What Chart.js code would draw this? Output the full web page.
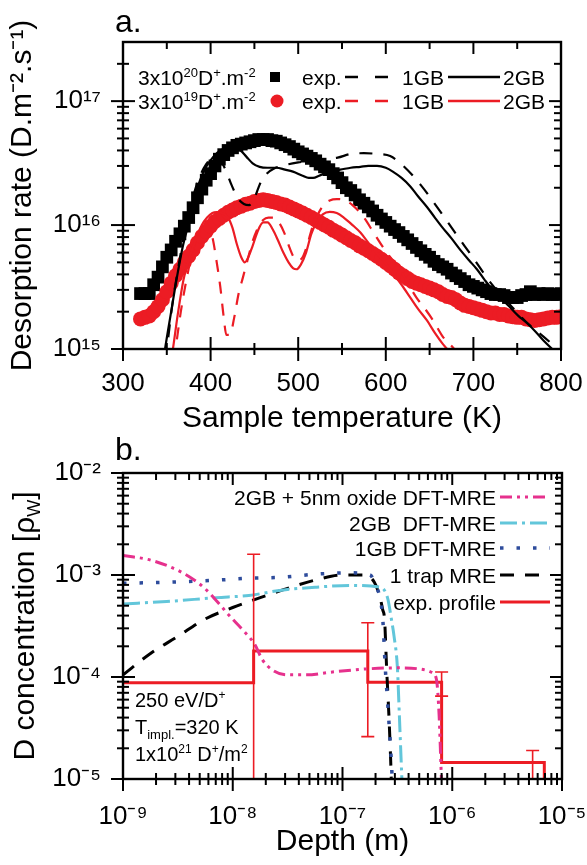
<!DOCTYPE html>
<html>
<head>
<meta charset="utf-8">
<script src="https://cdn.jsdelivr.net/npm/chart.js@4.4.1/dist/chart.umd.min.js"></script>
<style>
html,body{margin:0;padding:0;background:#fff;width:587px;height:865px;overflow:hidden}
canvas{position:absolute;left:0}
#ca{top:0}
#cb{top:435px}
</style>
</head>
<body>
<canvas id="ca" width="587" height="435"></canvas>
<canvas id="cb" width="587" height="430"></canvas>
<script>
// ---------------- Panel a data ----------------
const tempExp = [320,325,330,335,340,345,350,355,360,365,370,375,380,385,390,395,400,405,410,415,420,
  425,430,435,440,445,450,455,460,465,470,475,480,485,490,495,500,505,510,515,520,
  525,530,535,540,545,550,555,560,565,570,575,580,585,590,595,600,605,610,615,620,
  625,630,635,640,645,650,655,660,665,670,675,680,685,690,695,700,705,710,715,720,
  725,730,735,740,745,750,755,760,765,770,775,780,785,790,795,800];
const exp3e20 = [2.8e15,2.8e15,2.8e15,3.3e15,3.8e15,4.6e15,5.5e15,6.3e15,7.4e15,8.5e15,9.8e15,
  1.15e16,1.38e16,1.66e16,1.95e16,2.3e16,2.6e16,3.0e16,3.4e16,3.7e16,4.0e16,
  4.2e16,4.4e16,4.5e16,4.6e16,4.7e16,4.8e16,4.9e16,4.9e16,4.9e16,4.8e16,
  4.75e16,4.6e16,4.45e16,4.3e16,4.1e16,3.9e16,3.75e16,3.6e16,3.45e16,3.3e16,
  3.1e16,2.95e16,2.8e16,2.6e16,2.4e16,2.2e16,2.0e16,1.9e16,1.75e16,1.6e16,
  1.5e16,1.4e16,1.3e16,1.2e16,1.12e16,1.05e16,9.8e15,9.2e15,8.7e15,8.1e15,
  7.6e15,7.1e15,6.6e15,6.2e15,5.8e15,5.5e15,5.1e15,4.8e15,4.6e15,4.4e15,
  4.1e15,3.9e15,3.7e15,3.5e15,3.3e15,3.2e15,3.1e15,3.0e15,2.9e15,2.8e15,
  2.75e15,2.75e15,2.7e15,2.6e15,2.6e15,2.6e15,2.7e15,2.75e15,2.9e15,2.75e15,
  2.8e15,2.75e15,2.8e15,2.75e15,2.75e15,2.8e15];
const exp3e19 = [1.75e15,1.8e15,1.85e15,2.0e15,2.2e15,2.5e15,2.9e15,3.4e15,3.9e15,4.4e15,5.0e15,
  5.6e15,6.3e15,7.2e15,8.1e15,8.9e15,9.8e15,1.07e16,1.13e16,1.2e16,1.27e16,
  1.32e16,1.38e16,1.42e16,1.47e16,1.5e16,1.55e16,1.58e16,1.6e16,1.58e16,1.55e16,
  1.52e16,1.48e16,1.45e16,1.4e16,1.35e16,1.3e16,1.25e16,1.2e16,1.15e16,1.1e16,
  1.05e16,1.0e16,9.6e15,9.1e15,8.7e15,8.3e15,7.9e15,7.5e15,7.2e15,6.8e15,
  6.5e15,6.2e15,5.9e15,5.6e15,5.3e15,5.0e15,4.7e15,4.4e15,4.1e15,3.9e15,
  3.7e15,3.5e15,3.4e15,3.3e15,3.2e15,3.1e15,3.0e15,2.9e15,2.75e15,2.65e15,
  2.6e15,2.5e15,2.35e15,2.25e15,2.2e15,2.15e15,2.1e15,2.05e15,2.0e15,1.95e15,
  1.95e15,1.9e15,1.9e15,1.85e15,1.82e15,1.8e15,1.8e15,1.75e15,1.72e15,1.7e15,
  1.72e15,1.75e15,1.78e15,1.8e15,1.8e15,1.82e15];

const temp2GB_3e20 = [346,348,355,361,368,376,382,388,395,403,411,419,428,434,441,448,456,465,475,485,494,505,512,517,524,532,540,548,560,571,580,590,600,608,618,628,637,647,656,665,675,685,695,704,713,722,731,741,751,761,771,780,790,800];
const rate2GB_3e20 = [8e14,1.0e15,2.0e15,3.6e15,6.6e15,1.1e16,1.66e16,2.3e16,2.95e16,3.55e16,4.0e16,4.15e16,4.15e16,4.0e16,3.55e16,3.15e16,2.95e16,2.9e16,2.9e16,2.8e16,2.7e16,2.5e16,2.4e16,2.4e16,2.5e16,2.65e16,2.75e16,2.8e16,2.9e16,2.95e16,3.0e16,3.0e16,2.9e16,2.7e16,2.4e16,2.05e16,1.7e16,1.4e16,1.15e16,9.5e15,7.8e15,6.3e15,5.2e15,4.4e15,3.6e15,3.0e15,2.6e15,2.2e15,1.86e15,1.62e15,1.38e15,1.17e15,1.0e15,8.7e14];

const temp1GB_3e20 = [348,350,356,363,370,378,386,395,403,410,417,424,431,438,444,450,457,464,472,485,500,515,530,545,560,575,590,605,620,640,660,680,700,720,740,760,780,800];
const rate1GB_3e20 = [8e14,1.0e15,2.2e15,4.5e15,8.5e15,1.5e16,2.3e16,3.1e16,3.5e16,3.4e16,2.8e16,2.1e16,1.65e16,1.48e16,1.45e16,1.65e16,2.2e16,2.6e16,2.85e16,3.05e16,3.2e16,3.3e16,3.4e16,3.5e16,3.75e16,3.8e16,3.75e16,3.6e16,3.0e16,2.1e16,1.35e16,8.5e15,5.4e15,3.4e15,2.35e15,1.66e15,1.26e15,9.5e14];

const temp2GB_3e19 = [355,357,363,369,376,384,390,396,402,407,413,420,425,430,435,439,443,448,454,460,465,471,477,483,489,494,498,503,509,515,521,528,536,544,552,562,571,580,590,600,608,618,628,637,647,656,665,670,675];
const rate2GB_3e19 = [8e14,1.0e15,2.0e15,3.6e15,5.5e15,8.0e15,1.0e16,1.15e16,1.25e16,1.27e16,1.25e16,1.15e16,9.5e15,7.0e15,5.5e15,5.0e15,5.5e15,6.8e15,9.0e15,1.05e16,1.05e16,9.2e15,7.5e15,6.0e15,5.0e15,4.5e15,4.4e15,4.8e15,6.0e15,8.5e15,1.05e16,1.22e16,1.28e16,1.25e16,1.15e16,1.0e16,8.7e15,7.2e15,5.9e15,4.9e15,4.1e15,3.3e15,2.6e15,2.1e15,1.7e15,1.35e15,1.1e15,1.0e15,8.8e14];

const temp1GB_3e19 = [358,360,366,373,380,386,392,397,402,407,411,415,418,422,427,432,437,443,448,454,460,466,472,478,484,490,495,500,505,510,516,522,529,536,544,552,562,575,586,597,606,616,625,635,645,654,665,678,682];
const rate1GB_3e19 = [8e14,1.0e15,2.0e15,3.8e15,6.3e15,8.3e15,9.5e15,9.5e15,8.0e15,5.0e15,3.2e15,1.8e15,1.3e15,1.3e15,1.8e15,2.8e15,3.8e15,5.5e15,7.4e15,9.5e15,1.1e16,1.15e16,1.15e16,1.05e16,8.7e15,6.6e15,5.5e15,5.2e15,5.5e15,6.8e15,9.5e15,1.2e16,1.45e16,1.58e16,1.62e16,1.6e16,1.45e16,1.15e16,8.7e15,6.6e15,5.4e15,4.4e15,3.4e15,2.6e15,2.1e15,1.7e15,1.26e15,1.0e15,9e14];

const xTickValsA = [300,400,500,600,700,800];
const xTickLabelsA = ['300','400','500','600','700','800'];
const xMinorA = [350,450,550,650,750];
const yTickValsA = [1e15,1e16,1e17];
const yTickLabelsA = ['10¹⁵','10¹⁶','10¹⁷'];

// ---------------- Panel b data ----------------
const depthOx = [1e-9,1.78e-9,3.5e-9,5.4e-9,7.1e-9,9.3e-9,1.23e-8,1.58e-8,1.86e-8,2.3e-8,3.1e-8,4.7e-8,8.1e-8,1.66e-7,3.3e-7,5.0e-7,6.6e-7,7.2e-7,7.6e-7,7.9e-7,8.1e-7];
const concOx  = [1.55e-3,1.4e-3,1.05e-3,7.6e-4,5.6e-4,4.0e-4,2.9e-4,2.1e-4,1.48e-4,1.17e-4,1.05e-4,1.05e-4,1.12e-4,1.2e-4,1.23e-4,1.2e-4,1.1e-4,9.3e-5,4.1e-5,1.3e-5,6.3e-6];
const depth2GB = [1e-9,2.5e-9,7.1e-9,1.4e-8,2.8e-8,5.8e-8,1.15e-7,2.2e-7,2.57e-7,2.8e-7,2.95e-7,3.16e-7,3.3e-7,3.47e-7,3.55e-7];
const conc2GB  = [5.2e-4,5.5e-4,6.0e-4,6.3e-4,7.1e-4,7.6e-4,7.9e-4,7.6e-4,6.0e-4,3.6e-4,2.5e-4,1.26e-4,4.1e-5,1.05e-5,6e-6];
const depth1GB = [1e-9,2.5e-9,7.1e-9,1.4e-8,2.8e-8,5.8e-8,1.15e-7,1.78e-7,2.04e-7,2.24e-7,2.34e-7,2.45e-7,2.57e-7,2.69e-7,2.82e-7,2.88e-7];
const conc1GB  = [8.3e-4,8.5e-4,8.9e-4,9.3e-4,9.5e-4,1.02e-3,1.05e-3,1.0e-3,7.6e-4,5.4e-4,3.4e-4,1.26e-4,5.9e-5,2.8e-5,1.15e-5,6.3e-6];
const depthTrap = [1e-9,1.78e-9,3.16e-9,5.6e-9,1e-8,1.78e-8,3.16e-8,5.6e-8,1e-7,1.58e-7,1.95e-7,2.2e-7,2.32e-7,2.42e-7,2.52e-7,2.65e-7,2.74e-7,2.82e-7];
const concTrap  = [1.05e-4,1.7e-4,2.5e-4,3.7e-4,4.8e-4,6.0e-4,7.4e-4,8.9e-4,1.0e-3,1.0e-3,8.5e-4,6.0e-4,4.6e-4,3.6e-4,1.26e-4,4.1e-5,1.66e-5,6.3e-6];
const expDepth = [1e-9,1.55e-8,1.7e-7,8e-7,6.9e-6];
const expConc  = [8.8e-5,1.8e-4,8.9e-5,1.45e-5,1e-6];
const errDepth = [1.55e-8,1.7e-7,8e-7,5.4e-6];
const errHigh  = [1.6e-3,3.4e-4,1.12e-4,1.9e-5];
const errLow   = [1e-6,2.6e-5,6.5e-5,1e-5];

const xTickValsB = [1e-9,1e-8,1e-7,1e-6,1e-5];
const xTickLabelsB = ['10⁻⁹','10⁻⁸','10⁻⁷','10⁻⁶','10⁻⁵'];
const yTickValsB = [1e-5,1e-4,1e-3,1e-2];
const yTickLabelsB = ['10⁻⁵','10⁻⁴','10⁻³','10⁻²'];

// ---------------- helpers ----------------
const FONT = "'Liberation Sans', Arial, Helvetica, sans-serif";
const RED = '#ec1c24', MAG = '#e6318d', CYAN = '#62c6da', BLUE = '#2e4c9c';
const TICKFONT = 26;

function pts(xs, ys){ return xs.map((x,i)=>({x:x, y:ys[i]})); }
function lineDS(xs, ys, color, dash, width, extra){
  return Object.assign({data:pts(xs,ys), showLine:true, borderColor:color, backgroundColor:color,
    borderWidth:width, borderDash:dash, pointRadius:0, fill:false,
    cubicInterpolationMode:'monotone', clip:0}, extra||{});
}
function logMinor(lo, hi){
  const out=[];
  for(let e=Math.round(Math.log10(lo)); e<Math.round(Math.log10(hi))+1; e++){
    for(let m=2;m<=9;m++){ const v=m*Math.pow(10,e); if(v>lo && v<hi*0.999) out.push(v); }
  }
  return out;
}
function xAxis(type,min,max,vals,labels,pad,titleText,titlePadB,h){
  return {type:type,min:min,max:max,
    grid:{display:false,drawTicks:false}, border:{display:false},
    afterBuildTicks:s=>{s.ticks=vals.map(v=>({value:v}));},
    ticks:{autoSkip:false,maxRotation:0,minRotation:0,padding:pad,color:'#000',
      font:{family:FONT,size:TICKFONT,lineHeight:1},callback:(v,i)=>labels[i]},
    title:{display:!!titleText,text:titleText,color:'#000',font:{family:FONT,size:30,lineHeight:1},
      padding:{top:0,bottom:titlePadB}},
    afterFit:s=>{s.height=h;s.paddingLeft=0;s.paddingRight=0;}
  };
}
function yAxis(type,min,max,vals,labels,pad,titleText,titlePadT){
  return {type:type,min:min,max:max,
    grid:{display:false,drawTicks:false}, border:{display:false},
    afterBuildTicks:s=>{s.ticks=vals.map(v=>({value:v}));},
    ticks:{autoSkip:false,padding:pad,color:'#000',
      font:{family:FONT,size:TICKFONT,lineHeight:1},callback:(v,i)=>labels[i]},
    title:{display:!!titleText,text:titleText||'',color:'#000',font:{family:FONT,size:30,lineHeight:1},
      padding:{top:titlePadT,bottom:0}},
    afterFit:s=>{s.width=123;s.paddingTop=0;s.paddingBottom=0;}
  };
}
// rich text: parts = [text, size, dy]
function rich(ctx, x, y, parts, align){
  let w=0;
  parts.forEach(p=>{ctx.font=p[1]+'px '+FONT; w+=ctx.measureText(p[0]).width;});
  let cx = align==='right' ? x-w : (align==='center' ? x-w/2 : x);
  ctx.textAlign='left'; ctx.textBaseline='alphabetic'; ctx.fillStyle='#000';
  parts.forEach(p=>{ctx.font=p[1]+'px '+FONT; ctx.fillText(p[0],cx,y+p[2]); cx+=ctx.measureText(p[0]).width;});
  return w;
}
function seg(ctx,x1,x2,y,color,dash,width){
  ctx.save(); ctx.strokeStyle=color; ctx.lineWidth=width; ctx.setLineDash(dash);
  ctx.beginPath(); ctx.moveTo(x1,y); ctx.lineTo(x2,y); ctx.stroke(); ctx.restore();
}
function framePlugin(spec){
  return {
    id:'frame',
    afterDatasetsDraw(chart){ if(spec.under) spec.under(chart); },
    afterDraw(chart){
      const ctx=chart.ctx, ca=chart.chartArea, xs=chart.scales.x, ys=chart.scales.y;
      ctx.save();
      ctx.strokeStyle='#000'; ctx.lineWidth=2.4; ctx.setLineDash([]);
      ctx.strokeRect(ca.left,ca.top,ca.right-ca.left,ca.bottom-ca.top);
      ctx.lineWidth=2;
      const L=(a,b,c,d)=>{ctx.beginPath();ctx.moveTo(a,b);ctx.lineTo(c,d);ctx.stroke();};
      spec.xMajor.forEach(v=>{const p=xs.getPixelForValue(v); L(p,ca.bottom-12,p,ca.bottom+12); L(p,ca.top,p,ca.top+12);});
      spec.xMinor.forEach(v=>{const p=xs.getPixelForValue(v); L(p,ca.bottom-6,p,ca.bottom+6); L(p,ca.top,p,ca.top+7);});
      spec.yMajor.forEach(v=>{const p=ys.getPixelForValue(v); L(ca.left-12,p,ca.left+12,p); L(ca.right-12,p,ca.right,p);});
      spec.yMinor.forEach(v=>{const p=ys.getPixelForValue(v); L(ca.left-6,p,ca.left+6,p); L(ca.right-7,p,ca.right,p);});
      ctx.restore();
      ctx.save(); spec.extra(chart); ctx.restore();
    }
  };
}

// ---------------- Chart a ----------------
new Chart(document.getElementById('ca'), {
  type:'line',
  data:{datasets:[
    lineDS(temp2GB_3e20, rate2GB_3e20, '#000', [], 2.2),
    lineDS(temp1GB_3e20, rate1GB_3e20, '#000', [13,11], 2.2),
    lineDS(temp2GB_3e19, rate2GB_3e19, RED, [], 2.2),
    lineDS(temp1GB_3e19, rate1GB_3e19, RED, [12,10], 2.2),
    {data:pts(tempExp, exp3e19), showLine:false, pointStyle:'circle', pointRadius:7.5,
     pointBackgroundColor:RED, pointBorderWidth:0, borderColor:RED, clip:0},
    {data:pts(tempExp, exp3e20), showLine:false, pointStyle:'rect', pointRadius:9,
     pointBackgroundColor:'#000', pointBorderWidth:0, borderColor:'#000', clip:0}
  ]},
  options:{
    responsive:false, animation:false, events:[],
    layout:{padding:{top:42,right:26,left:0,bottom:0}},
    plugins:{legend:{display:false},tooltip:{enabled:false}},
    scales:{
      x:xAxis('linear',300,800,xTickValsA,xTickLabelsA,22,'Sample temperature (K)',1,86),
      y:yAxis('logarithmic',1e15,3e17,yTickValsA,yTickLabelsA,22,'Desorption rate (D.m⁻².s⁻¹)',8)
    }
  },
  plugins:[framePlugin({
    xMajor:xTickValsA, xMinor:xMinorA, yMajor:yTickValsA, yMinor:logMinor(1e15,3e17),
    extra(chart){
      const ctx=chart.ctx;
      ctx.font='32px '+FONT; ctx.fillStyle='#000'; ctx.textBaseline='alphabetic'; ctx.textAlign='left';
      ctx.fillText('a.',115,32);
      const rows=[
        {y:77, label:[['3x10',21,0],['20',13,-8],['D',21,0],['+',13,-8],['.m',21,0],['-2',13,-8]], color:'#000', marker:'rect'},
        {y:101,label:[['3x10',21,0],['19',13,-8],['D',21,0],['+',13,-8],['.m',21,0],['-2',13,-8]], color:RED, marker:'circle'}
      ];
      rows.forEach(r=>{
        rich(ctx,138,r.y+8,r.label,'left');
        ctx.fillStyle=r.color;
        if(r.marker==='rect'){ ctx.fillRect(270,r.y-5,10,10); }
        else { ctx.beginPath(); ctx.arc(277,r.y,6.5,0,Math.PI*2); ctx.fill(); }
        rich(ctx,302,r.y+8,[['exp.',21,0]],'left');
        seg(ctx,345,388,r.y,r.color,[13,17],2.4);
        rich(ctx,402,r.y+8,[['1GB',21,0]],'left');
        seg(ctx,448,500,r.y,r.color,[],2.4);
        rich(ctx,503,r.y+8,[['2GB',21,0]],'left');
      });
    }
  })]
});

// ---------------- Chart b ----------------
new Chart(document.getElementById('cb'), {
  type:'line',
  data:{datasets:[
    lineDS(depthOx, concOx, MAG, [12,5,3,5,3,5], 3),
    lineDS(depth2GB, conc2GB, CYAN, [17,5,3,5], 3),
    lineDS(depth1GB, conc1GB, BLUE, [3.5,13], 3.5),
    lineDS(depthTrap, concTrap, '#000', [14,11], 3),
    lineDS(expDepth, expConc, RED, [], 3, {stepped:true, cubicInterpolationMode:'default'})
  ]},
  options:{
    responsive:false, animation:false, events:[],
    layout:{padding:{top:38,right:25,left:0,bottom:0}},
    plugins:{legend:{display:false},tooltip:{enabled:false}},
    scales:{
      x:xAxis('logarithmic',1e-9,1e-5,xTickValsB,xTickLabelsB,25,'Depth (m)',8,86),
      y:yAxis('logarithmic',1e-5,1e-2,yTickValsB,yTickLabelsB,22,'',0)
    }
  },
  plugins:[framePlugin({
    xMajor:xTickValsB, xMinor:logMinor(1e-9,1e-5), yMajor:yTickValsB, yMinor:logMinor(1e-5,1e-2),
    under(chart){
      const ctx=chart.ctx, ca=chart.chartArea, xs=chart.scales.x, ys=chart.scales.y;
      ctx.save();
      ctx.beginPath(); ctx.rect(ca.left,ca.top-8,ca.right-ca.left,ca.bottom-ca.top+9); ctx.clip();
      ctx.strokeStyle=RED; ctx.lineWidth=1.6; ctx.setLineDash([]);
      errDepth.forEach((d,i)=>{
        const px=xs.getPixelForValue(d), ph=ys.getPixelForValue(errHigh[i]), pl=ys.getPixelForValue(errLow[i]);
        ctx.beginPath(); ctx.moveTo(px,ph); ctx.lineTo(px,pl);
        ctx.moveTo(px-6.5,ph); ctx.lineTo(px+6.5,ph);
        ctx.moveTo(px-6.5,pl); ctx.lineTo(px+6.5,pl); ctx.stroke();
      });
      ctx.restore();
    },
    extra(chart){
      const ctx=chart.ctx, ca=chart.chartArea;
      ctx.font='32px '+FONT; ctx.fillStyle='#000'; ctx.textBaseline='alphabetic'; ctx.textAlign='left';
      ctx.fillText('b.',115,25);
      // y title with subscript
      ctx.save();
      ctx.translate(23,(ca.top+ca.bottom)/2);
      ctx.rotate(-Math.PI/2);
      rich(ctx,0,11,[['D concentration [ρ',30,0],['W',18,6],[']',30,0]],'center');
      ctx.restore();
      // legend
      const leg=[
        {t:'2GB + 5nm oxide DFT-MRE', c:MAG, d:[12,5,3,5,3,5], w:3, y:62},
        {t:'2GB  DFT-MRE', c:CYAN, d:[17,5,3,5], w:3, y:88},
        {t:'1GB DFT-MRE', c:BLUE, d:[3.5,13], w:3.5, y:113},
        {t:'1 trap MRE', c:'#000', d:[14,11], w:3, y:140},
        {t:'exp. profile', c:RED, d:[], w:3, y:167}
      ];
      leg.forEach(l=>{
        rich(ctx,496,l.y+8,[[l.t,21,0]],'right');
        seg(ctx,500,550,l.y,l.c,l.d,l.w);
      });
      // annotations
      rich(ctx,135,272,[['250 eV/D',20,0],['+',12,-8]],'left');
      rich(ctx,135,299,[['T',20,0],['impl.',13,5],['=320 K',20,0]],'left');
      rich(ctx,135,326,[['1x10',20,0],['21',12,-8],[' D',20,0],['+',12,-8],['/m',20,0],['2',12,-8]],'left');
    }
  })]
});
</script>
</body>
</html>
